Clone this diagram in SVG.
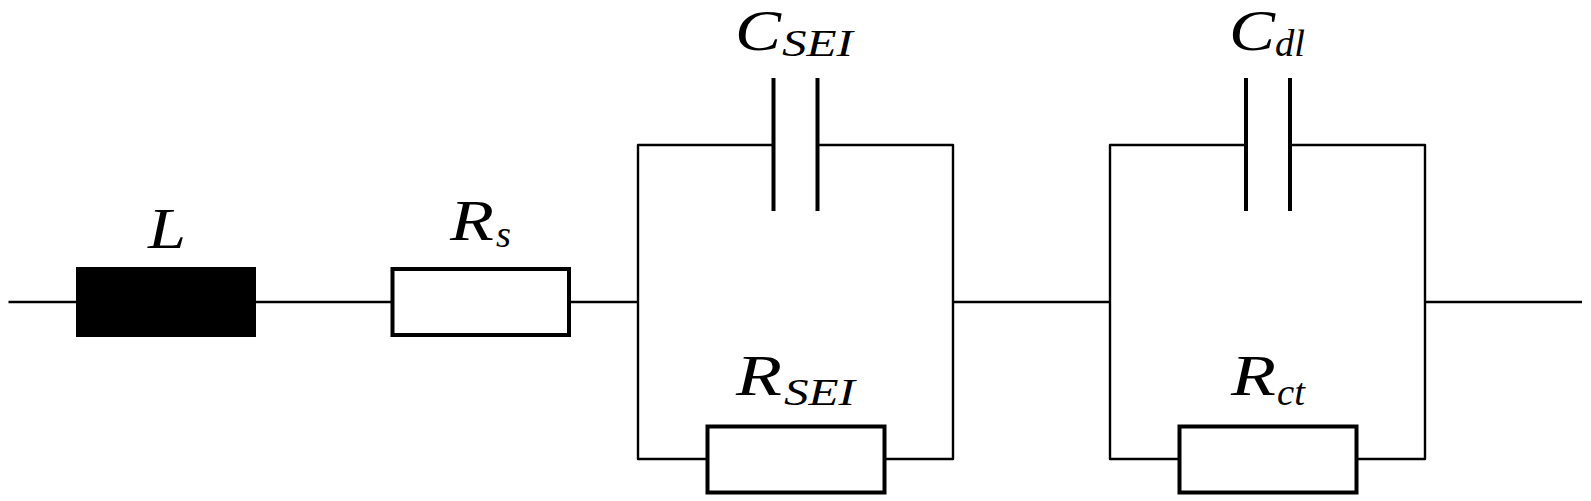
<svg xmlns="http://www.w3.org/2000/svg" width="1591" height="501" viewBox="0 0 1591 501">
<style>
.w{fill:none;stroke:#000;stroke-width:2.400;stroke-linecap:butt;stroke-linejoin:round}
.p{fill:none;stroke:#000;stroke-width:4}
.r{fill:#fff;stroke:#000;stroke-width:4}
text{font-family:"Liberation Serif","Times New Roman",serif;font-style:italic;fill:#000}
.m{font-size:58px}
.s{font-size:38px}
</style>
<rect width="1591" height="501" fill="#fff"/>
<g id="connectors">
<path class="w" d="M8.500 302H76M256 302H392M570 302H638M953 302H1110M1425 302H1582"/>
<path class="w" d="M773 145H638V459H707M817 145H953V459H884"/>
<path class="w" d="M1246 145H1110V459H1179M1290 145H1425V459H1357"/>
</g>
<g id="L"><rect x="76" y="267" width="180" height="70" fill="#000"/><text class="m" x="148" y="248" textLength="38" lengthAdjust="spacingAndGlyphs">L</text></g>
<g id="Rs"><rect class="r" x="392.500" y="269" width="176.500" height="66"/><text class="m" x="450" y="240" textLength="44" lengthAdjust="spacingAndGlyphs">R</text><text class="s" x="496" y="247" textLength="15" lengthAdjust="spacingAndGlyphs">s</text></g>
<g id="CSEI"><path class="p" d="M773.500 78V211M817.500 78V211"/><text class="m" x="735" y="50" textLength="46" lengthAdjust="spacingAndGlyphs">C</text><text class="s" x="782" y="56" textLength="71" lengthAdjust="spacingAndGlyphs">SEI</text></g>
<g id="RSEI"><rect class="r" x="707.500" y="426.500" width="177" height="66"/><text class="m" x="736" y="395" textLength="46" lengthAdjust="spacingAndGlyphs">R</text><text class="s" x="784" y="405" textLength="71" lengthAdjust="spacingAndGlyphs">SEI</text></g>
<g id="Cdl"><path class="p" d="M1246 78V211M1290 78V211"/><text class="m" x="1229" y="50" textLength="46" lengthAdjust="spacingAndGlyphs">C</text><text class="s" x="1275" y="56" textLength="30" lengthAdjust="spacingAndGlyphs">dl</text></g>
<g id="Rct"><rect class="r" x="1179.500" y="426.500" width="177" height="66"/><text class="m" x="1231" y="395" textLength="45" lengthAdjust="spacingAndGlyphs">R</text><text class="s" x="1277" y="405" textLength="28" lengthAdjust="spacingAndGlyphs">ct</text></g>
</svg>
